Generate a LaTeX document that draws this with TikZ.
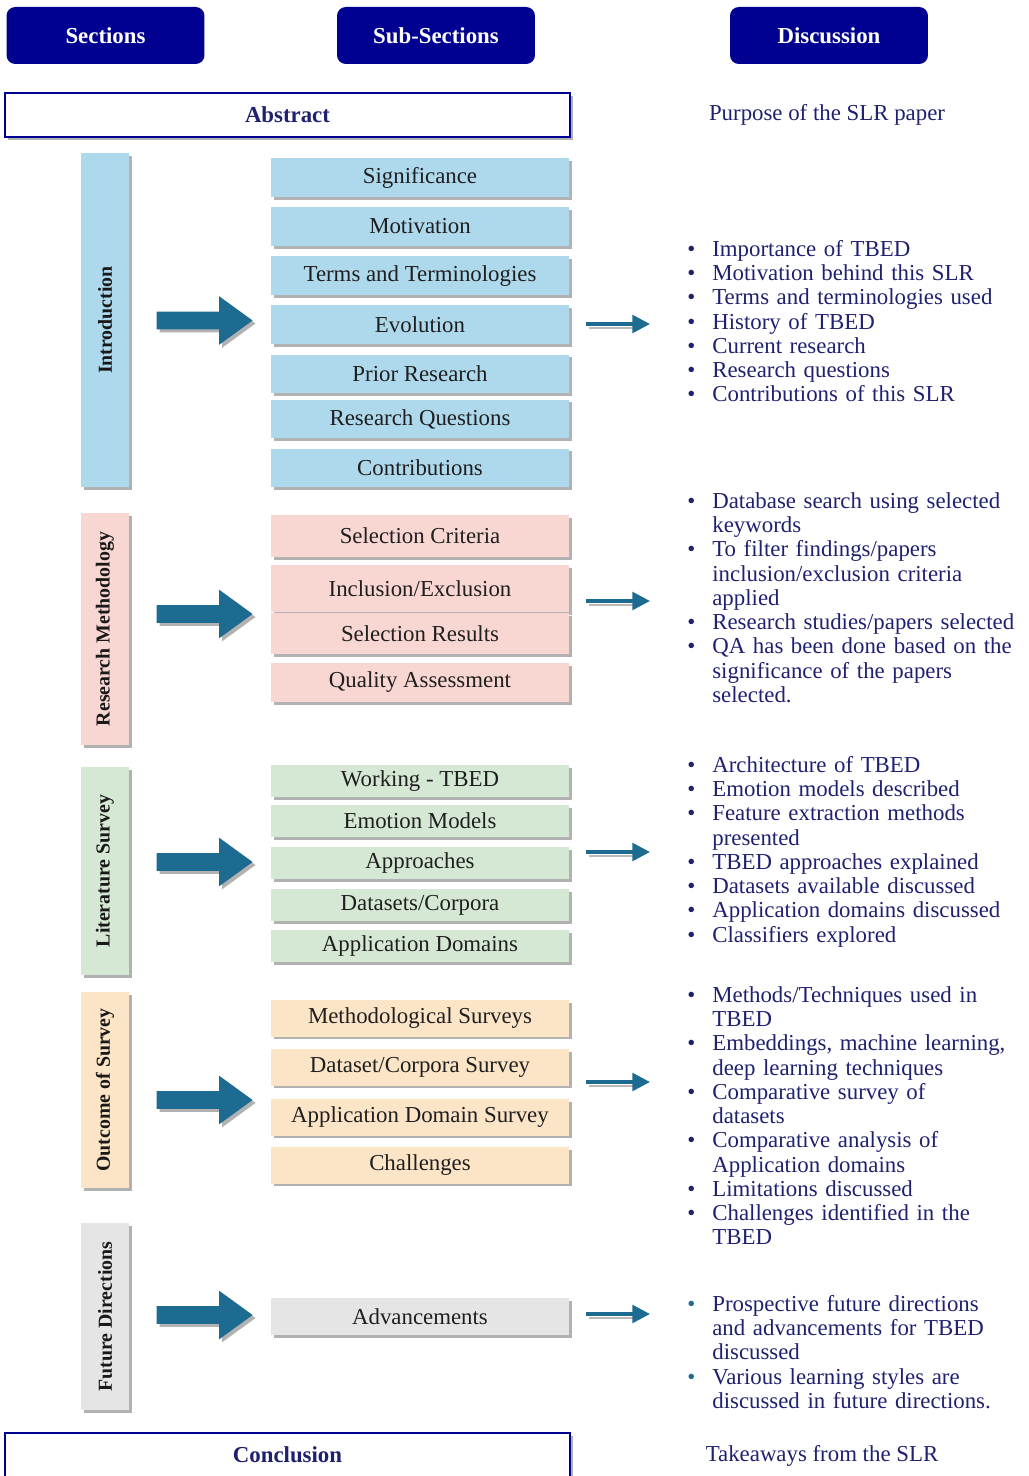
\documentclass[tikz,border=0pt]{standalone}
\usepackage{fontspec}
\setmainfont{Liberation Serif}
\usepackage{enumitem}
\usetikzlibrary{arrows.meta,shapes.arrows,shadows,positioning}

\definecolor{hdrblue}{RGB}{0,0,145}
\definecolor{txtnavy}{RGB}{32,32,112}
\definecolor{arrowteal}{RGB}{30,107,145}
\definecolor{introfill}{RGB}{174,216,236}
\definecolor{methfill}{RGB}{248,214,210}
\definecolor{litfill}{RGB}{213,232,212}
\definecolor{outfill}{RGB}{252,228,199}
\definecolor{futfill}{RGB}{229,229,229}

\setlist[itemize]{nosep, leftmargin=0.52cm, labelsep=0.34cm, label=\textbullet}

\tikzset{
	header/.style={fill=hdrblue, rounded corners=5pt, minimum width=3.96cm,
		minimum height=1.14cm, text=white, font=\bfseries\fontsize{13}{15}\selectfont},
	boxshadow/.style={general shadow={fill=black!30, shadow xshift=1.7pt, shadow yshift=-1.7pt}},
	endbox/.style={draw=hdrblue, line width=1.6pt, fill=white, boxshadow,
		minimum width=11.3cm, minimum height=0.88cm, text=txtnavy,
		font=\bfseries\fontsize{13}{15}\selectfont},
	secbar/.style={boxshadow, minimum width=0.96cm, inner sep=0pt},
	seclabel/.style={rotate=90, font=\bfseries\fontsize{11.3}{13}\selectfont, text=black!90},
	subbox/.style={boxshadow, minimum width=5.96cm, inner sep=0pt, text=black!88,
		font=\fontsize{13}{15}\selectfont},
	bigarrow/.style={single arrow, fill=arrowteal, boxshadow, inner xsep=0pt,
		inner ysep=0.17cm, minimum height=1.92cm, single arrow head extend=0.31cm,
		single arrow tip angle=72},
	thinarrow/.style={draw=arrowteal, line width=2pt, -{Triangle[length=10pt,width=10pt]}},
	thinshadow/.style={draw=black!28, line width=1.4pt},
	discuss/.style={anchor=north west, inner sep=0pt, text width=6.8cm, align=left,
		text=txtnavy, font=\fontsize{13}{13.78}\selectfont},
	plain/.style={text=txtnavy, font=\fontsize{13}{15}\selectfont}
}

\begin{document}
\begin{tikzpicture}[x=0.02cm, y=-0.02cm]
	\def \subx{420}
	\def \barx{105}
	\def \arrx{198.5}
	\useasboundingbox (0,0) rectangle (1028,1476);

	% Column headers
	\node[header] (hsec) at (105.5,35.5) {Sections};
	\node[header] (hsub) at (436,35.5) {Sub-Sections};
	\node[header] (hdis) at (829,35.5) {Discussion};

	% Abstract
	\node[endbox] (abstract) at (287.5,115) {Abstract};
	\node[plain] (abstxt) at (827,115) {Purpose of the SLR paper};

	% Introduction
	\node[secbar, fill=introfill, minimum height=6.68cm] (intro) at (\barx,320) {};
	\node[seclabel] (introlbl) at (intro.center) {Introduction};
	\node[bigarrow] (introarr) at (\arrx,320.5) {};
	\foreach \n/\y/\t in {sig/177.5/Significance, mot/226.5/Motivation,
		term/275.8/Terms and Terminologies, evo/324.5/Evolution,
		prior/374/Prior Research, rq/419/Research Questions, contrib/468/Contributions}
		\node[subbox, fill=introfill, minimum height=0.78cm] (\n) at (\subx,\y) {\t};

	% Research Methodology
	\node[secbar, fill=methfill, minimum height=4.64cm] (meth) at (\barx,629) {};
	\node[seclabel] (methlbl) at (meth.center) {Research Methodology};
	\node[bigarrow] (metharr) at (\arrx,614) {};
	\node[subbox, fill=methfill, minimum height=0.84cm] (selcrit) at (\subx,536) {Selection Criteria};
	\node[subbox, fill=methfill, minimum height=0.94cm] (incl) at (\subx,588.5) {Inclusion/Exclusion};
	\node[subbox, fill=methfill, minimum height=0.82cm] (selres) at (\subx,633.5) {Selection Results};
	\node[subbox, fill=methfill, minimum height=0.78cm] (qa) at (\subx,682.5) {Quality Assessment};

	% Literature Survey
	\node[secbar, fill=litfill, minimum height=4.16cm] (lit) at (\barx,871) {};
	\node[seclabel] (litlbl) at (lit.center) {Literature Survey};
	\node[bigarrow] (litarr) at (\arrx,862) {};
	\foreach \n/\y/\t in {work/781/Working - TBED, emo/821/Emotion Models,
		appr/863/Approaches, data/905/{Datasets/Corpora}, appdom/946/Application Domains}
		\node[subbox, fill=litfill, minimum height=0.64cm] (\n) at (\subx,\y) {\t};

	% Outcome of Survey
	\node[secbar, fill=outfill, minimum height=3.92cm] (out) at (\barx,1090) {};
	\node[seclabel] (outlbl) at (out.center) {Outcome of Survey};
	\node[bigarrow] (outarr) at (\arrx,1100) {};
	\foreach \n/\y/\t in {msurv/1018/Methodological Surveys, dsurv/1067/{Dataset/Corpora Survey},
		asurv/1117/Application Domain Survey, chal/1165/Challenges}
		\node[subbox, fill=outfill, minimum height=0.74cm] (\n) at (\subx,\y) {\t};

	% Future Directions
	\node[secbar, fill=futfill, minimum height=3.74cm] (fut) at (\barx,1316.5) {};
	\node[seclabel] (futlbl) at (fut.center) {Future Directions};
	\node[bigarrow] (futarr) at (\arrx,1315) {};
	\node[subbox, fill=futfill, minimum height=0.74cm] (adv) at (\subx,1316.5) {Advancements};

	% Arrows to the discussion column
	\foreach \n/\y in {intro/324, meth/601, lit/852, out/1082, fut/1314} {
		\coordinate (\n s) at (586,\y);
		\coordinate (\n e) at (650,\y);
		\draw[thinshadow] ([shift={(3,4)}]\n s) -- ([shift={(47,4)}]\n s);
		\draw[thinarrow] (\n s) -- (\n e);
	}

	% Discussion
	\node[discuss] (introtxt) at (686,232) {%
		\begin{itemize}
			\item Importance of TBED
			\item Motivation behind this SLR
			\item Terms and terminologies used
			\item History of TBED
			\item Current research
			\item Research questions
			\item Contributions of this SLR
		\end{itemize}};
	\node[discuss] (methtxt) at (686,484) {%
		\begin{itemize}
			\item Database search using selected\\keywords
			\item To filter findings/papers\\inclusion/exclusion criteria\\applied
			\item Research studies/papers selected
			\item QA has been done based on the\\significance of the papers\\selected.
		\end{itemize}};
	\node[discuss] (littxt) at (686,748) {%
		\begin{itemize}
			\item Architecture of TBED
			\item Emotion models described
			\item Feature extraction methods\\presented
			\item TBED approaches explained
			\item Datasets available discussed
			\item Application domains discussed
			\item Classifiers explored
		\end{itemize}};
	\node[discuss] (outtxt) at (686,978) {%
		\begin{itemize}
			\item Methods/Techniques used in\\TBED
			\item Embeddings, machine learning,\\deep learning techniques
			\item Comparative survey of\\datasets
			\item Comparative analysis of\\Application domains
			\item Limitations discussed
			\item Challenges identified in the\\TBED
		\end{itemize}};
	\node[discuss] (futtxt) at (686,1287) {%
		\begin{itemize}[label={\color{arrowteal}\textbullet}]
			\item Prospective future directions\\and advancements for TBED\\discussed
			\item Various learning styles are\\discussed in future directions.
		\end{itemize}};

	% Conclusion
	\node[endbox, minimum height=0.96cm] (concl) at (287.5,1457) {};
	\node[text=txtnavy, font=\bfseries\fontsize{13}{15}\selectfont] (concltxt) at (287.5,1455) {Conclusion};
	\node[plain] (takeaway) at (822,1456) {Takeaways from the SLR};
\end{tikzpicture}
\end{document}
